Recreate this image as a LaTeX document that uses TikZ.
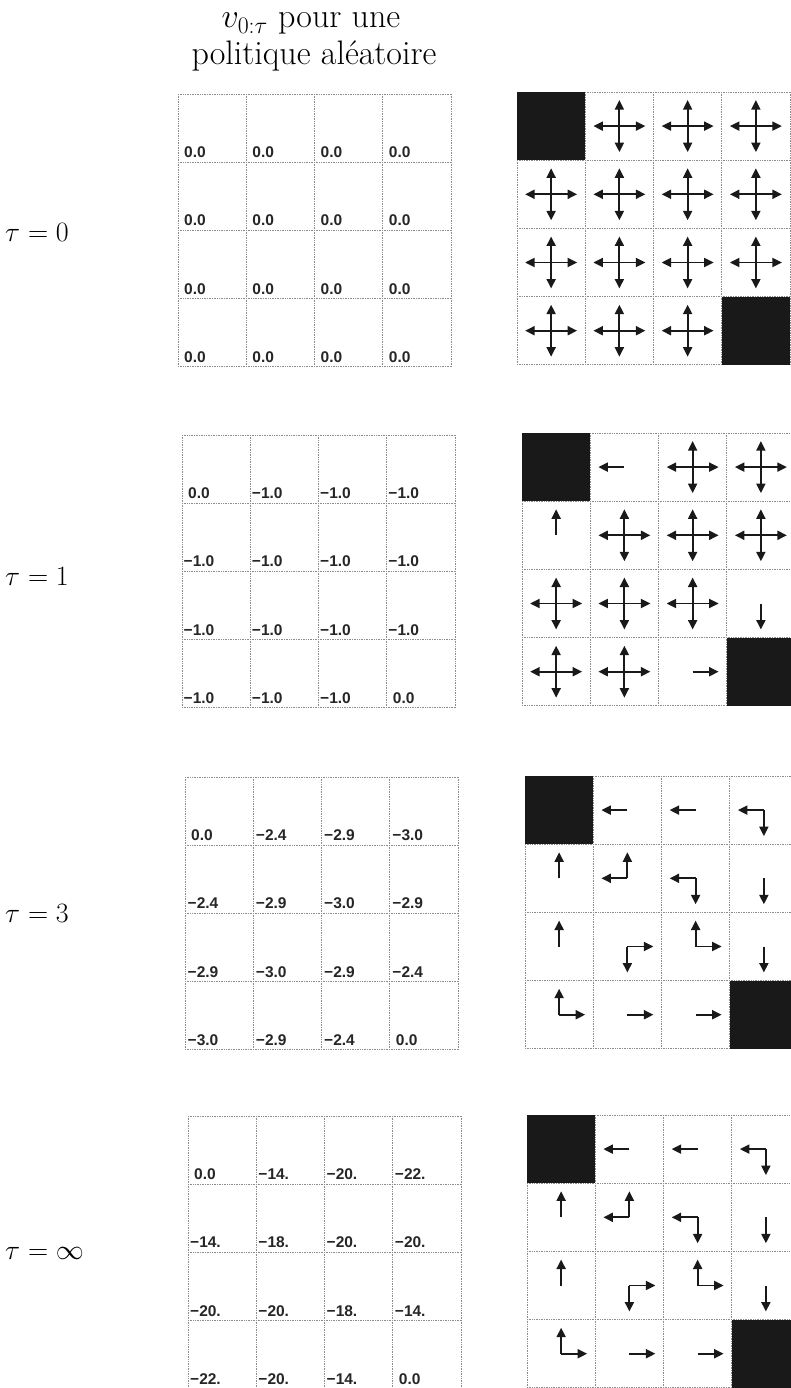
\RequirePackage{fix-cm}
\documentclass[tikz,border=0pt]{standalone}
\usepackage{fontspec}
\newfontfamily\numfont{Liberation Sans}
\usetikzlibrary{arrows.meta}
\tikzset{
  gridline/.style={black!45, line width=0.7pt, densely dotted},
  arm/.style={line width=1.9pt, black!90, -{Triangle[length=9.5pt,width=9pt]}},
  wall/.style={fill=black!90, draw=none},
  val/.style={font=\numfont\bfseries\fontsize{15.5}{16}\selectfont, text=black!85, anchor=base west, inner sep=0pt},
  taulab/.style={font=\fontsize{28}{32}\selectfont, anchor=base west, inner sep=0pt},
  titletext/.style={font=\fontsize{34}{40}\selectfont, anchor=base, inner sep=0pt},
}
\newcommand\cellw{68.25}
\newcommand\cellh{68.2}
\newcommand\gridlines[2]{%
  \foreach \i in {0,...,4}{%
    \draw[gridline] ({#1+\i*\cellw},#2) -- ({#1+\i*\cellw},{#2+4*\cellh});
    \draw[gridline] (#1,{#2+\i*\cellh}) -- ({#1+4*\cellw},{#2+\i*\cellh});
  }}
\newcommand\valgrid[4]{%
  \gridlines{#2}{#3}
  \foreach \o/\t [count=\k from 0] in {#4}{%
    \pgfmathtruncatemacro\r{floor(\k/4)}%
    \pgfmathtruncatemacro\c{mod(\k,4)}%
    \node[val] (#1-\r-\c) at ({#2+\c*\cellw+\o},{#3+(\r+1)*\cellh-4.5}) {\t};
  }}
\newcommand\polgrid[4]{%
  \gridlines{#2}{#3}
  \foreach \p [count=\k from 0] in {#4}{%
    \pgfmathtruncatemacro\r{floor(\k/4)}%
    \pgfmathtruncatemacro\c{mod(\k,4)}%
    \coordinate (#1-\r-\c) at ({#2+(\c+0.5)*\cellw},{#3+(\r+0.5)*\cellh});
    \foreach \d in \p {%
      \ifnum\d<0\relax
        \fill[wall] ({#2+\c*\cellw},{#3+\r*\cellh}) rectangle ++(\cellw,\cellh);
      \else
        \draw[arm] (#1-\r-\c) -- ++(\d:26);
      \fi
    }}}
\begin{document}
\begin{tikzpicture}[x=1pt,y=-1pt]
\useasboundingbox (0,0) rectangle (790,1388);
\fill[white] (0,0) rectangle (790,1388);

% title
\node[titletext] (title1) at (311,28) {$v_{0:\tau}$ pour une};
\node[titletext] (title2) at (314,65) {politique aléatoire};

% tau labels
\node[taulab] (tau0) at (5,242) {$\tau = 0$};
\node[taulab] (tau1) at (5,585) {$\tau = 1$};
\node[taulab] (tau3) at (5,922) {$\tau = 3$};
\node[taulab] (tauinf) at (5,1259) {$\tau = \infty$};

% panel tau = 0
\valgrid{va}{178}{94}{6/0.0,6/0.0,6/0.0,6/0.0, 6/0.0,6/0.0,6/0.0,6/0.0, 6/0.0,6/0.0,6/0.0,6/0.0, 6/0.0,6/0.0,6/0.0,6/0.0}
\polgrid{pa}{517}{92}{{-1},{180,0,270,90},{180,0,270,90},{180,0,270,90},
 {180,0,270,90},{180,0,270,90},{180,0,270,90},{180,0,270,90},
 {180,0,270,90},{180,0,270,90},{180,0,270,90},{180,0,270,90},
 {180,0,270,90},{180,0,270,90},{180,0,270,90},{-1}}

% panel tau = 1
\valgrid{vb}{182}{435}{6/0.0,1.5/−1.0,1.5/−1.0,1.5/−1.0, 1.5/−1.0,1.5/−1.0,1.5/−1.0,1.5/−1.0, 1.5/−1.0,1.5/−1.0,1.5/−1.0,1.5/−1.0, 1.5/−1.0,1.5/−1.0,1.5/−1.0,6/0.0}
\polgrid{pb}{522}{433}{{-1},{180},{180,0,270,90},{180,0,270,90},
 {270},{180,0,270,90},{180,0,270,90},{180,0,270,90},
 {180,0,270,90},{180,0,270,90},{180,0,270,90},{90},
 {180,0,270,90},{180,0,270,90},{0},{-1}}

% panel tau = 3
\valgrid{vc}{185}{777}{6/0.0,2.5/−2.4,2.5/−2.9,2.5/−3.0, 2.5/−2.4,2.5/−2.9,2.5/−3.0,2.5/−2.9, 2.5/−2.9,2.5/−3.0,2.5/−2.9,2.5/−2.4, 2.5/−3.0,2.5/−2.9,2.5/−2.4,6/0.0}
\polgrid{pc}{525}{776}{{-1},{180},{180},{180,90},
 {270},{180,270},{180,90},{90},
 {270},{0,90},{270,0},{90},
 {270,0},{0},{0},{-1}}

% panel tau = infinity
\valgrid{vd}{188}{1116}{6/0.0,2/−14.,2/−20.,2/−22., 2/−14.,2/−18.,2/−20.,2/−20., 2/−20.,2/−20.,2/−18.,2/−14., 2/−22.,2/−20.,2/−14.,6/0.0}
\polgrid{pd}{527}{1115}{{-1},{180},{180},{180,90},
 {270},{180,270},{180,90},{90},
 {270},{0,90},{270,0},{90},
 {270,0},{0},{0},{-1}}
\end{tikzpicture}
\end{document}
